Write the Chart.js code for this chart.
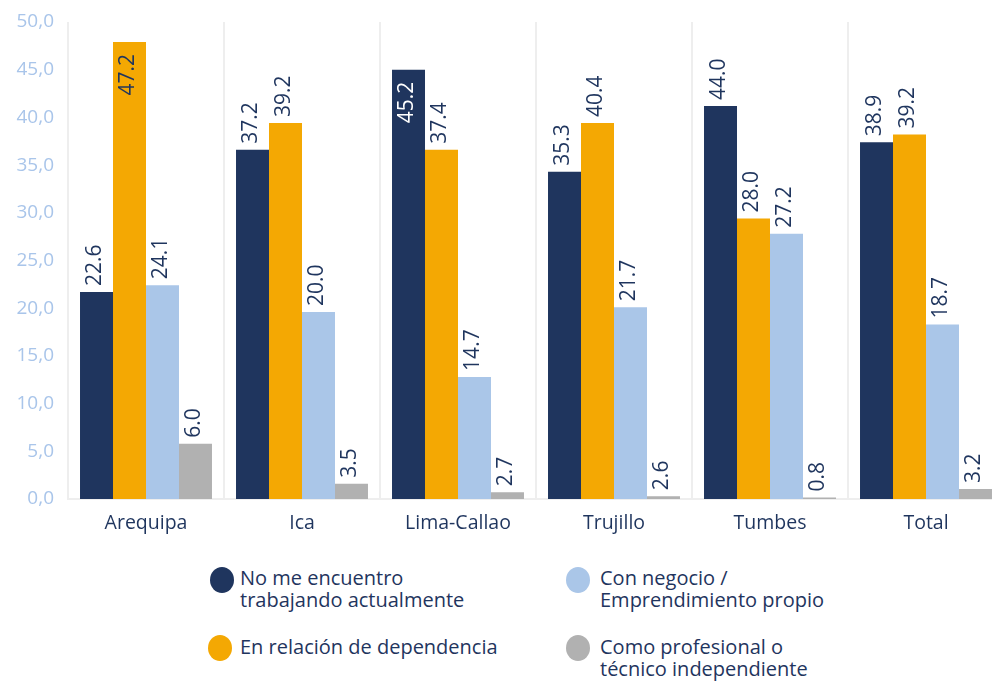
<!DOCTYPE html>
<html>
<head>
<meta charset="utf-8">
<script src="https://cdn.jsdelivr.net/npm/chart.js@4/dist/chart.umd.min.js"></script>
<style>
  html, body { margin:0; padding:0; background:#fff; overflow:hidden; width:992px; height:684px; }
  #wrap { position:absolute; left:0; top:0; width:1012px; height:546px; }
  .leg { position:absolute; font-family:"Open Sans", sans-serif; font-size:20px; line-height:22px; color:#1f355e; }
  .dot { position:absolute; width:24px; height:26px; border-radius:50%; }
</style>
</head>
<body>
<div id="wrap"><canvas id="c" width="1012" height="546"></canvas></div>
<div id="legend"></div>
<script>
const categories = ['Arequipa', 'Ica', 'Lima-Callao', 'Trujillo', 'Tumbes', 'Total'];
const seriesNames = ['No me encuentro\ntrabajando actualmente', 'En relación de dependencia', 'Con negocio /\nEmprendimiento propio', 'Como profesional o\ntécnico independiente'];
// bar heights as drawn
const noTrabaja   = [21.7, 36.6, 45.0, 34.3, 41.2, 37.4];
const dependencia = [47.9, 39.4, 36.6, 39.4, 29.4, 38.2];
const negocio     = [22.4, 19.6, 12.8, 20.1, 27.8, 18.3];
const profesional = [5.8, 1.6, 0.7, 0.3, 0.15, 1.05];
// printed value labels
const noTrabajaLbl   = ['22.6', '37.2', '45.2', '35.3', '44.0', '38.9'];
const dependenciaLbl = ['47.2', '39.2', '37.4', '40.4', '28.0', '39.2'];
const negocioLbl     = ['24.1', '20.0', '14.7', '21.7', '27.2', '18.7'];
const profesionalLbl = ['6.0', '3.5', '2.7', '2.6', '0.8', '3.2'];
const yTicks = [0, 5, 10, 15, 20, 25, 30, 35, 40, 45, 50];

const colors = ['#1f355e', '#f4a803', '#aac6e8', '#b1b1b1'];
const navy = '#1f355e';
const valueSets = [noTrabaja, dependencia, negocio, profesional];
const labelSets = [noTrabajaLbl, dependenciaLbl, negocioLbl, profesionalLbl];
const FONT = '"Open Sans", sans-serif';

const valueLabels = {
  id: 'valueLabels',
  afterDatasetsDraw(chart) {
    const ctx = chart.ctx;
    const top = chart.chartArea.top;
    ctx.save();
    ctx.font = '21px ' + FONT;
    ctx.textBaseline = 'middle';
    chart.data.datasets.forEach((ds, di) => {
      const meta = chart.getDatasetMeta(di);
      meta.data.forEach((bar, i) => {
        const txt = labelSets[di][i];
        const w = ctx.measureText(txt).width;
        ctx.save();
        ctx.translate(bar.x - 1, bar.y);
        ctx.rotate(-Math.PI / 2);
        if (bar.y - 6 - w < top + 10) {
          ctx.fillStyle = di === 0 ? '#ffffff' : navy;
          ctx.textAlign = 'right';
          ctx.fillText(txt, -12, 0);
        } else {
          ctx.fillStyle = navy;
          ctx.textAlign = 'left';
          ctx.fillText(txt, 6, 0);
        }
        ctx.restore();
      });
    });
    ctx.restore();
  }
};

new Chart(document.getElementById('c'), {
  type: 'bar',
  data: {
    labels: categories,
    datasets: valueSets.map((v, i) => ({
      label: seriesNames[i],
      data: v,
      backgroundColor: colors[i],
      borderWidth: 0,
      categoryPercentage: 0.846,
      barPercentage: 1.0
    }))
  },
  options: {
    responsive: false,
    animation: false,
    devicePixelRatio: 1,
    layout: { padding: { left: 0, right: 8, top: 22, bottom: 0 } },
    plugins: { legend: { display: false }, tooltip: { enabled: false } },
    scales: {
      x: {
        grid: { display: true, offset: true, color: '#eeeeee', lineWidth: 2, drawTicks: false },
        border: { display: true, color: '#eeeeee', width: 2 },
        ticks: { color: navy, font: { family: FONT, size: 19.5 }, padding: 13 },
        afterFit(s) { s.height = 47; }
      },
      y: {
        min: 0, max: 50,
        afterBuildTicks(s) { s.ticks = yTicks.map(v => ({ value: v })); },
        grid: { display: false, drawTicks: false },
        border: { display: false },
        ticks: {
          color: '#a9c5ea', font: { family: FONT, size: 19, lineHeight: 0.5 }, padding: 14,
          callback: v => v.toFixed(1).replace('.', ',')
        },
        afterFit(s) { s.width = 68; }
      }
    }
  },
  plugins: [valueLabels]
});

// legend
const legendItems = [
  { c: colors[0], x: 210, y: 567, tx: 240, ty: 567, t: 'No me encuentro<br>trabajando actualmente' },
  { c: colors[1], x: 208, y: 635, tx: 240, ty: 636, t: 'En relación de dependencia' },
  { c: colors[2], x: 566, y: 567, tx: 600, ty: 567, t: 'Con negocio /<br>Emprendimiento propio' },
  { c: colors[3], x: 566, y: 635, tx: 600, ty: 636, t: 'Como profesional o<br>técnico independiente' }
];
const L = document.getElementById('legend');
legendItems.forEach(it => {
  const d = document.createElement('div');
  d.className = 'dot';
  d.style.left = it.x + 'px'; d.style.top = it.y + 'px'; d.style.background = it.c;
  L.appendChild(d);
  const t = document.createElement('div');
  t.className = 'leg';
  t.style.left = it.tx + 'px'; t.style.top = it.ty + 'px';
  t.innerHTML = it.t;
  L.appendChild(t);
});
</script>
</body>
</html>
